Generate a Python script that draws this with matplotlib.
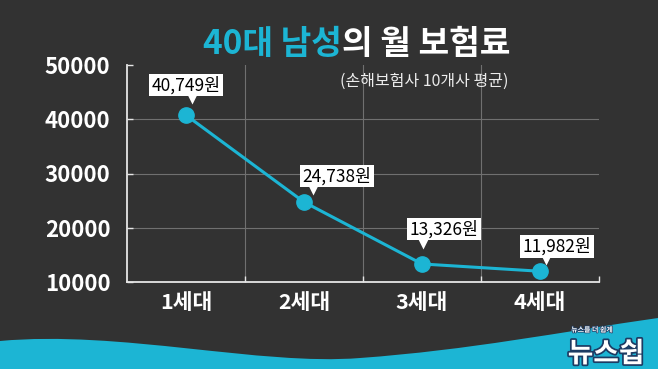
import matplotlib.pyplot as plt
import matplotlib.patheffects as pe
from matplotlib.path import Path
from matplotlib.patches import PathPatch
from matplotlib.transforms import offset_copy

plt.rcParams['font.family'] = ['Noto Sans CJK KR', 'DejaVu Sans']

# data
generations = ['1세대', '2세대', '3세대', '4세대']
premiums = [40749, 24738, 13326, 11982]
value_labels = ['40,749원', '24,738원', '13,326원', '11,982원']
y_ticks = [10000, 20000, 30000, 40000, 50000]

BG = '#323232'
CYAN = '#1cb5d4'
W, H = 658, 369

fig = plt.figure(figsize=(W / 100, H / 100), dpi=100)
fig.patch.set_facecolor(BG)

# background layer with the cyan wave at the bottom
bg = fig.add_axes([0, 0, 1, 1], zorder=0)
bg.set_xlim(0, W)
bg.set_ylim(H, 0)
bg.axis('off')
C = Path.CURVE4
verts = [(0, 341), (120, 330), (260, 366), (360, 358),
         (470, 350), (560, 332), (658, 318),
         (658, 369), (0, 369), (0, 341)]
codes = [Path.MOVETO, C, C, C, C, C, C, Path.LINETO, Path.LINETO, Path.CLOSEPOLY]
bg.add_patch(PathPatch(Path(verts, codes), fc=CYAN, ec='none'))

# chart
ax = fig.add_axes([127 / W, (H - 282) / H, (599 - 127) / W, (282 - 65) / H], zorder=1)
ax.set_facecolor('none')
x = list(range(len(generations)))

for yv in y_ticks[1:-1]:
    ax.axhline(yv, color='#707070', lw=0.8, zorder=1)
for xv in [0.5, 1.5, 2.5]:
    ax.axvline(xv, color='#707070', lw=0.8, zorder=1)

ax.plot(x, premiums, color=CYAN, lw=2.2, marker='o', ms=11, zorder=3)

ax.set_xlim(-0.5, 3.5)
ax.set_ylim(10000, 50000)

for s in ['top', 'right']:
    ax.spines[s].set_visible(False)
for s in ['left', 'bottom']:
    ax.spines[s].set_color('#e6e6e6')
    ax.spines[s].set_linewidth(1.3)

ax.set_yticks(y_ticks)
ax.set_yticklabels([str(v) for v in y_ticks])
ax.tick_params(axis='y', direction='in', length=4, width=1, color='#e6e6e6',
               labelcolor='white', labelsize=16, pad=12)
for lab in ax.get_yticklabels():
    lab.set_fontweight('bold')

ax.set_xticks([0.5, 1.5, 2.5, 3.5])
ax.set_xticklabels([])
ax.set_xticks(x, minor=True)
ax.set_xticklabels(generations, minor=True)
ax.tick_params(axis='x', which='major', direction='in', length=4, width=1, color='#e6e6e6')
ax.tick_params(axis='x', which='minor', length=0, pad=7, labelcolor='white', labelsize=15.5)
for lab in ax.get_xticklabels(minor=True):
    lab.set_fontweight('black')

# value callouts (offsets in pixels)
box_off = [(0, 30), (33, 26), (22, 35), (17, 25)]
tip_off = [(6, 16), (9, 12), (1, 20), (6, 11)]
for i in x:
    dx, dy = box_off[i]
    ax.annotate(value_labels[i], (i, premiums[i]), xytext=(dx * 0.72, dy * 0.72),
                textcoords='offset points', ha='center', va='center',
                fontsize=12.5, color='black', zorder=5,
                bbox=dict(boxstyle='square,pad=0.12', fc='white', ec='none'))
    tx, ty = tip_off[i]
    tr = offset_copy(ax.transData, fig=fig, x=tx, y=ty, units='dots')
    ax.plot([i], [premiums[i]], marker='v', ms=7, color='white', mec='none',
            transform=tr, zorder=5)

# title
t2 = fig.text(510 / W, 1 - 54 / H, '의 월 보험료', ha='right', va='baseline',
              fontsize=24, fontweight='black', color='white')
fig.canvas.draw()
bb = t2.get_window_extent()
fig.text(bb.x0 / W, 1 - 54 / H, '40대 남성', ha='right', va='baseline',
         fontsize=24, fontweight='black', color=CYAN)
fig.text(508 / W, 1 - 86 / H, '(손해보험사 10개사 평균)', ha='right', va='baseline',
         fontsize=11.5, color='#ececec')

# logo
fig.text(606 / W, 1 - 362 / H, '뉴스쉽', ha='center', va='baseline', fontsize=20,
         fontweight='black', style='italic', color='white',
         path_effects=[pe.withStroke(linewidth=2.5, foreground='#1d3b63')])
fig.text(592 / W, 1 - 332 / H, '뉴스를 더 쉽게', ha='center', va='baseline', fontsize=5,
         fontweight='bold', color='white',
         path_effects=[pe.withStroke(linewidth=1, foreground='#1d3b63')])

plt.savefig('out.png', dpi=100, facecolor=BG)
